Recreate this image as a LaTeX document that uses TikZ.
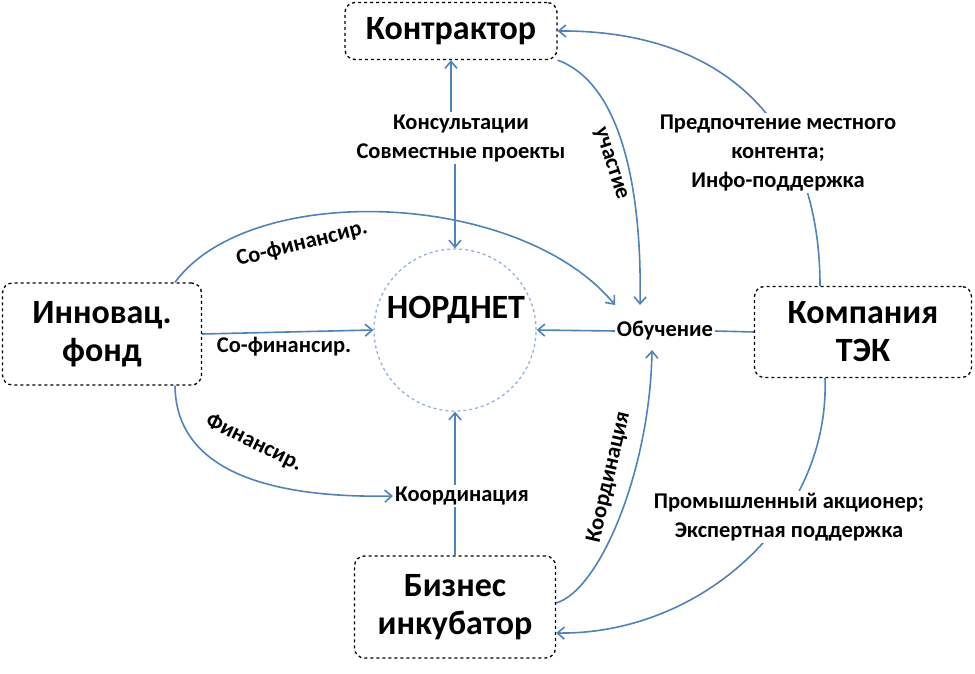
\documentclass[tikz,border=0pt]{standalone}
\usepackage{fontspec}
\setmainfont{Carlito}
\usetikzlibrary{arrows.meta,backgrounds}
\definecolor{conn}{HTML}{4F81BD}
\definecolor{circ}{HTML}{95B3D7}
\begin{document}
\begin{tikzpicture}[x=1pt,y=-1pt,
 ent/.style={draw=black, dashed, rounded corners=10pt, line width=1.3pt, font=\fontsize{34}{38}\selectfont\bfseries, align=center, inner sep=0pt},
 lbl/.style={font=\fontsize{22.5}{29}\selectfont\bfseries, align=center, inner sep=2pt},
 con/.style={draw=conn, line width=1.6pt},
 arr/.style={con, -{Straight Barb[length=7pt,width=12pt,line width=1.6pt]}}
]
\useasboundingbox (0,0) rectangle (975,674);
\node[ent, minimum width=212pt, minimum height=57pt] (kontr) at (451,31) {Контрактор};
\node[ent, minimum width=199pt, minimum height=102pt] (fond) at (102,334) {Инновац.\\фонд};
\node[ent, minimum width=217pt, minimum height=91pt] (tek) at (863,332) {Компания\\ТЭК};
\node[ent, minimum width=201pt, minimum height=102pt] (inkub) at (455,607) {Бизнес\\инкубатор};
\node[circle, draw=circ, dashed, line width=1.3pt, minimum size=162pt, inner sep=0pt] (nord) at (455,330) {};
\node[font=\fontsize{34}{38}\selectfont\bfseries] (nordt) at (456,310) {НОРДНЕТ};

\node[lbl] (kons) at (461,138) {Консультации\\Совместные проекты};
\node[lbl] (obuch) at (665,331) {Обучение};
\node[lbl] (koord) at (462,496) {Координация};
\node[lbl, fill=white] (pred) at (778,153) {Предпочтение местного\\контента;\\Инфо-поддержка};
\node[lbl, fill=white] (prom) at (789,517) {Промышленный акционер;\\Экспертная поддержка};
\node[lbl, rotate=-72] (uch) at (610,164) {участие};
\node[lbl, rotate=14] (cof1) at (302,244) {Со-финансир.};
\node[lbl] (cof2) at (284,347) {Со-финансир.};
\node[lbl, rotate=-26] (fin) at (254,443) {Финансир.};
\node[lbl, rotate=77] (koord2) at (609,477) {Координация};

\coordinate (obA) at (640,305);
\coordinate (obB) at (615,305);
\coordinate (obC) at (652,350);

\begin{pgfonlayer}{background}
\draw[arr] (kons.north -| kontr.south) -- (kontr.south);
\draw[arr] (kons.south -| nord.north) -- (nord.north);
\draw[arr] (kontr.south east) .. controls (625,85) and (642,200) .. (obA);
\draw[arr] ([xshift=-43pt]tek.north) .. controls (820,120) and (720,30) .. (kontr.east);
\draw[arr] ([xshift=73pt]fond.north) .. controls (250,180) and (520,190) .. (obB);
\draw[arr] (fond.east) -- (nord.west);
\draw[arr] ([xshift=73pt]fond.south) .. controls (176,480) and (290,498) .. (koord.west);
\draw[con] (inkub.north) -- (inkub.north |- koord.south);
\draw[arr] (inkub.north |- koord.north) -- (nord.south);
\draw[arr] ([yshift=4pt]inkub.east) .. controls (600,590) and (650,470) .. (obC);
\draw[arr] ([xshift=-38pt]tek.south) .. controls (830,520) and (700,635) .. ([yshift=-26pt]inkub.east);
\draw[con] (tek.west) -- (obuch.east);
\draw[arr] (obuch.west) -- (nord.east);
\end{pgfonlayer}
\end{tikzpicture}
\end{document}
